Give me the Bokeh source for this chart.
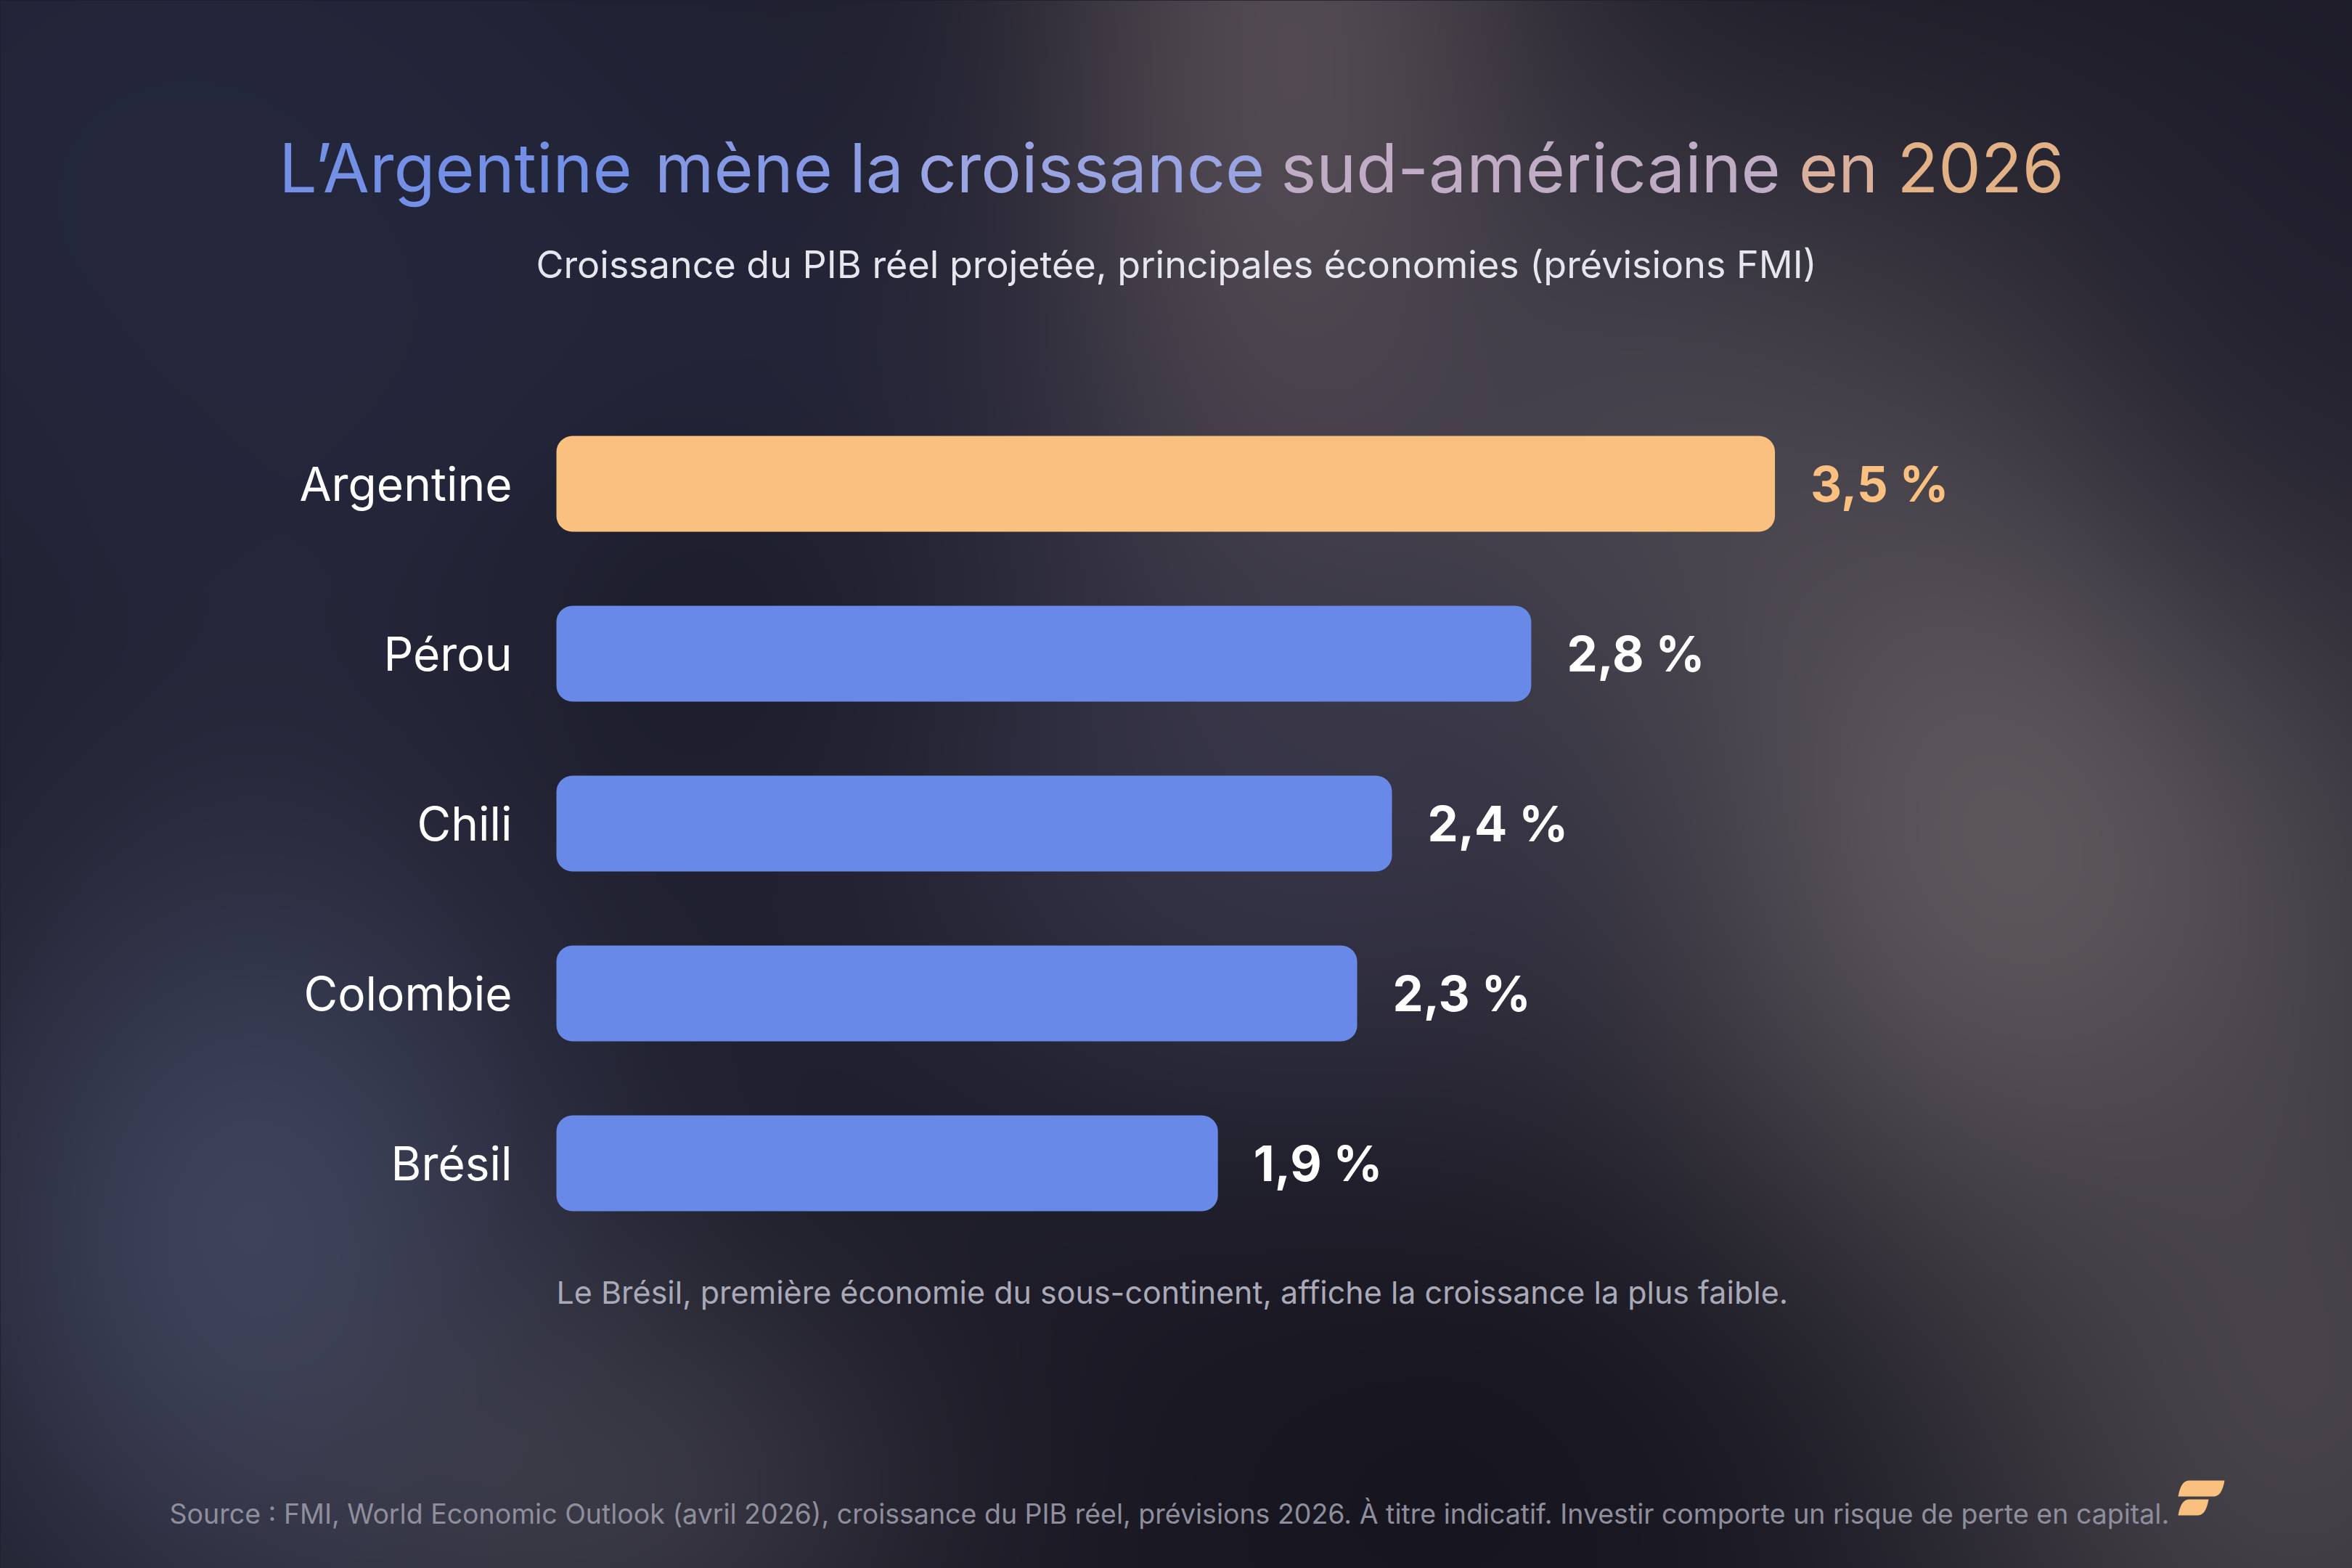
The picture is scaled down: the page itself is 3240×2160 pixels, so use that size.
import numpy as np
from bokeh.plotting import figure
from bokeh.models import Range1d, ColumnDataSource
from bokeh.core.properties import value
from bokeh.embed import file_html
from bokeh.resources import INLINE

# ---------------- data ----------------
countries = ["Argentine", "Pérou", "Chili", "Colombie", "Brésil"]
growth = [3.5, 2.8, 2.4, 2.3, 1.9]
highlight = ["Argentine"]

title_text = "L’Argentine mène la croissance sud-américaine en 2026"
subtitle_text = "Croissance du PIB réel projetée, principales économies (prévisions FMI)"
note_text = "Le Brésil, première économie du sous-continent, affiche la croissance la plus faible."
source_text = ("Source : FMI, World Economic Outlook (avril 2026), croissance du PIB réel, "
               "prévisions 2026. À titre indicatif. Investir comporte un risque de perte en capital.")

# ---------------- layout (reference pixel space) ----------------
W, H = 3240, 2160
OFF = 0
BAR_LEFT_PX = 766          # px of value 0
PX_PER_UNIT_X = 479.6
TOP_CENTER_PX = 666        # px of first bar centre
PX_PER_ROW = 234.0
BASE_SHIFT = 0.36          # em correction for alphabetic baseline placement
n = len(countries)

def X(ref_px):
    return (ref_px - OFF - BAR_LEFT_PX) / PX_PER_UNIT_X

def Y(ref_px):
    return (n - 1) - (ref_px - OFF - TOP_CENTER_PX) / PX_PER_ROW

def BL(ref_baseline, size):
    return Y(ref_baseline - BASE_SHIFT * size)

x0, x1 = X(OFF), X(OFF + W)
y0, y1 = Y(OFF + H), Y(OFF)

FONT = value("Inter")
BLUE = "#6889e8"
PEACH = "#f9c07f"

p = figure(width=W, height=H, x_range=Range1d(x0, x1), y_range=Range1d(y0, y1),
           output_backend="svg", toolbar_location=None, min_border=0,
           background_fill_color="#191824", border_fill_color="#191824",
           outline_line_color=None)
p.axis.visible = False
p.grid.visible = False

# ---------------- background (soft blurred glow) ----------------
S = 3
hh, ww = H // S, W // S
xs = (np.arange(ww) + 0.5) * S + OFF
ys = (np.arange(hh) + 0.5) * S + OFF
XX, YY = np.meshgrid(xs, ys)
base = np.array([25, 24, 36], dtype=float)
img = np.ones((hh, ww, 3)) * base
blobs = [
    # cx, cy, sx, sy, colour, alpha
    (250, 250, 700, 600, (38, 42, 64), 0.85),
    (1100, 600, 500, 300, (40, 42, 66), 0.5),
    (1780, 80, 260, 650, (92, 82, 88), 0.85),
    (2250, 600, 330, 330, (80, 76, 88), 0.6),
    (2800, 1150, 430, 520, (104, 97, 101), 0.9),
    (3150, 400, 250, 400, (32, 30, 46), 0.6),
    (3150, 1950, 360, 420, (84, 79, 84), 0.75),
    (1700, 1180, 380, 300, (60, 60, 84), 0.6),
    (350, 1700, 330, 420, (68, 74, 100), 0.85),
    (850, 2050, 330, 230, (74, 73, 84), 0.6),
    (2100, 2000, 450, 300, (20, 19, 28), 0.6),
    (980, 860, 200, 200, (24, 23, 33), 0.45),
]
for cx, cy, sx, sy, col, a in blobs:
    g = a * np.exp(-(((XX - cx) / sx) ** 2 + ((YY - cy) / sy) ** 2) / 2.0)
    img = img * (1 - g[..., None]) + np.array(col, dtype=float) * g[..., None]
img = np.clip(img, 0, 255).astype(np.uint8)[::-1]
rgba = np.zeros((hh, ww), dtype=np.uint32)
view = rgba.view(dtype=np.uint8).reshape((hh, ww, 4))
view[..., 0] = img[..., 0]
view[..., 1] = img[..., 1]
view[..., 2] = img[..., 2]
view[..., 3] = 255
p.image_rgba(image=[rgba], x=x0, y=y0, dw=x1 - x0, dh=y1 - y0)

# ---------------- bars ----------------
ypos = [n - 1 - i for i in range(n)]
colors = [PEACH if c in highlight else BLUE for c in countries]
src = ColumnDataSource(dict(y=ypos, v=growth, c=colors, name=countries))
p.hbar(y="y", left=0, right="v", height=132 / PX_PER_ROW, fill_color="c",
       line_color=None, border_radius=22, source=src)

# category labels
LABEL_SIZE = 64
centers_px = [TOP_CENTER_PX + i * PX_PER_ROW for i in range(n)]
p.text(x=[X(705)] * n,
       y=[BL(c + LABEL_SIZE * 0.727 / 2, LABEL_SIZE) for c in centers_px],
       text=countries, text_font=FONT, text_font_size=f"{LABEL_SIZE}px",
       text_color="#ffffff", text_align="right", text_baseline="alphabetic")

# value labels
VAL_SIZE = 67
val_txt = [f"{v:.1f}".replace(".", ",") + " %" for v in growth]
val_col = [PEACH if c in highlight else "#ffffff" for c in countries]
p.text(x=[v + 49 / PX_PER_UNIT_X for v in growth],
       y=[BL(c + VAL_SIZE * 0.727 / 2, VAL_SIZE) for c in centers_px],
       text=val_txt, text_font=FONT, text_font_size=f"{VAL_SIZE}px",
       text_font_style="bold", text_color=val_col,
       text_align="left", text_baseline="alphabetic")

# ---------------- title with colour gradient per word ----------------
TITLE_SIZE = 93
words = title_text.split(" ")
word_centers = [627, 1024, 1207, 1503, 2108, 2532, 2728]
stop_x = [386, 1750, 2200, 2849]
stop_c = np.array([[106, 138, 232], [165, 170, 225], [200, 174, 190], [234, 178, 122]], dtype=float)
wcols = []
for cxp in word_centers:
    r = np.interp(cxp, stop_x, stop_c[:, 0])
    g = np.interp(cxp, stop_x, stop_c[:, 1])
    b = np.interp(cxp, stop_x, stop_c[:, 2])
    wcols.append(f"#{int(r):02x}{int(g):02x}{int(b):02x}")
p.text(x=[X(cx) for cx in word_centers], y=[BL(264, TITLE_SIZE)] * len(words), text=words,
       text_font=FONT, text_font_size=f"{TITLE_SIZE}px", text_color=wcols,
       text_align="center", text_baseline="alphabetic")

# subtitle
SUB_SIZE = 52
p.text(x=[X(1620)], y=[BL(383, SUB_SIZE)], text=[subtitle_text], text_font=FONT,
       text_font_size=f"{SUB_SIZE}px", text_color="#e6e6ee", text_align="center",
       text_baseline="alphabetic")

# note
NOTE_SIZE = 43
p.text(x=[X(766)], y=[BL(1795, NOTE_SIZE)], text=[note_text], text_font=FONT,
       text_font_size=f"{NOTE_SIZE}px", text_color="#a9a9b8", text_align="left",
       text_baseline="alphabetic")

# source
SRC_SIZE = 37.5
p.text(x=[X(233)], y=[BL(2098, SRC_SIZE)], text=[source_text], text_font=FONT,
       text_font_size=f"{SRC_SIZE}px", text_color="#8f8e9c", text_align="left",
       text_baseline="alphabetic")

# ---------------- logo (two slanted leaves) ----------------
def qbez(p0, c, p1, k=12):
    t = np.linspace(0, 1, k)
    return [((1 - tt) ** 2 * p0[0] + 2 * (1 - tt) * tt * c[0] + tt ** 2 * p1[0],
             (1 - tt) ** 2 * p0[1] + 2 * (1 - tt) * tt * c[1] + tt ** 2 * p1[1]) for tt in t]

def leaf(xl, xr, top, bot, s):
    pts = [(xl + s, top), (xr, top)]
    pts += qbez((xr, top), (xr - s * 0.25, bot), (xr - s, bot))[1:]
    pts += [(xl, bot)]
    pts += qbez((xl, bot), (xl + s * 0.25, top), (xl + s, top))[1:-1]
    return [X(a) for a, _ in pts], [Y(b) for _, b in pts]

lx1, ly1 = leaf(3000, 3064, 2039, 2061, 15)
lx2, ly2 = leaf(3000, 3042, 2065, 2087, 15)
p.patches(xs=[lx1, lx2], ys=[ly1, ly2], fill_color=PEACH, line_color=None)

html = file_html(p, INLINE)
html = html.replace("</head>", "<style>html,body{background:#22243a;}</style></head>", 1)
open("out.html", "w").write(html)
